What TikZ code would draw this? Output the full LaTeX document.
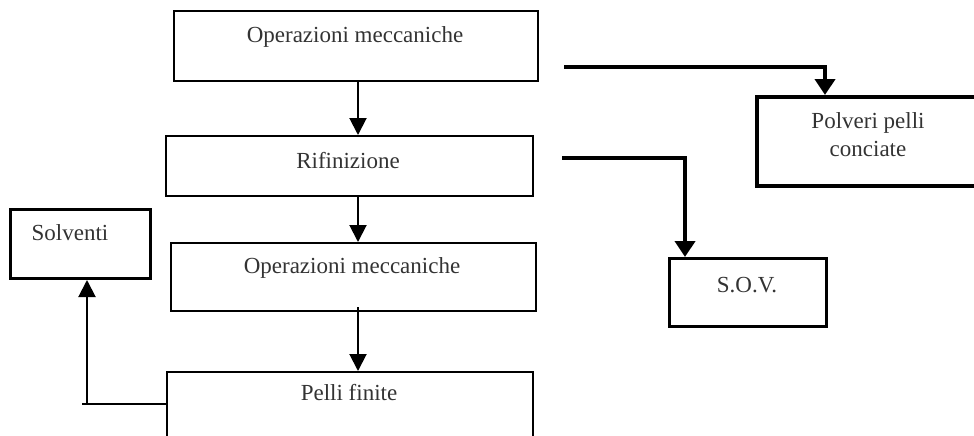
\documentclass[tikz,border=0pt]{standalone}
\usepackage{fontspec}
\setmainfont{Liberation Serif}
\usetikzlibrary{arrows.meta}
\begin{document}
\begin{tikzpicture}[x=1pt,y=-1pt,
  box/.style={draw=black,rectangle,inner sep=0pt,anchor=north west},
  lbl/.style={anchor=base,inner sep=0pt,font=\fontsize{23}{26}\selectfont,text=black!80},
  conn/.style={draw=black,line width=2pt,-{Triangle[width=17,length=17]}},
  heavy/.style={draw=black,line width=4pt,-{Triangle[width=20,length=16]}}]
\useasboundingbox (0,0) rectangle (974,436);
\clip (0,0) rectangle (974,436);

% process chain
\node[box,line width=2pt,minimum width=364,minimum height=70] (op1) at (173,10) {};
\node[box,line width=2pt,minimum width=367,minimum height=60] (rif) at (165,135) {};
\node[box,line width=2pt,minimum width=365,minimum height=68] (op2) at (170,242) {};
\node[box,line width=2pt,minimum width=366,minimum height=110] (pel) at (166,371) {};

% side outputs
\node[box,line width=3pt,minimum width=140,minimum height=69] (solv) at (9,208) {};
\node[box,line width=3.5pt,minimum width=250,minimum height=89] (pol) at (755,95) {};
\node[box,line width=3pt,minimum width=157,minimum height=68] (sov) at (668,257) {};

% labels
\node[lbl] (op1t) at (355,43) {Operazioni meccaniche};
\node[lbl] (rift) at (348,168) {Rifinizione};
\node[lbl] (op2t) at (352,273) {Operazioni meccaniche};
\node[lbl] (pelt) at (349,400) {Pelli finite};
\node[lbl] (solvt) at (70,240) {Solventi};
\node[lbl] (polt1) at (868,128) {Polveri pelli};
\node[lbl] (polt2) at (868,156) {conciate};
\node[lbl] (sovt) at (747,292) {S.O.V.};

% main flow
\coordinate (col) at (358,0);
\draw[conn] (op1.south -| col) -- (rif.north -| col);
\draw[conn] (rif.south -| col) -- (op2.north -| col);
\draw[conn] ([yshift=5]op2.south -| col) -- (pel.north -| col);

% return to solvents
\coordinate (fb) at (87,404);
\draw[conn] (pel.west |- fb) -| (solv.south -| fb);
\draw[line width=2pt] (fb) -- ++(-5,0);

% emissions
\coordinate (e1) at (564,67);
\coordinate (k1) at (825,0);
\draw[heavy] (e1) -| (pol.north -| k1);
\coordinate (e2) at (562,158);
\coordinate (k2) at (685,0);
\draw[heavy] (e2) -| (sov.north -| k2);
\end{tikzpicture}
\end{document}
